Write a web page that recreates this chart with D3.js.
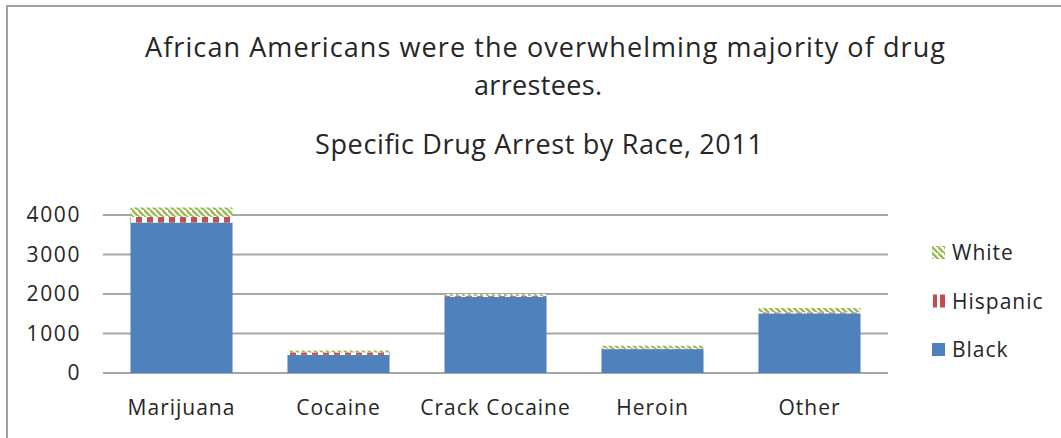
<!DOCTYPE html>
<html><head><meta charset="utf-8">
<script src="https://cdn.jsdelivr.net/npm/d3@7"></script>
<style>body{margin:0;background:#fff}svg{display:block}</style>
</head><body>
<svg id="c" width="1061" height="438"></svg>
<script>
const categories = ["Marijuana","Cocaine","Crack Cocaine","Heroin","Other"];
const black    = [3810, 460, 1930, 605, 1510];
const hispanic = [140, 60, 25, 15, 25];
const white    = [240, 50, 45, 70, 110];
const yTicks = [0,1000,2000,3000,4000];
const seriesNames = ["White","Hispanic","Black"];

const svg = d3.select("#c");
const font = "'Open Sans', sans-serif";
const W = 1061, H = 438;
const m = {left:103, right:888, top:215, bottom:373};

// frame
svg.append("path").attr("d",`M7,${H} L7,6 L${W},6`).attr("fill","none").attr("stroke","#a0a0a0").attr("stroke-width",2);

const defs = svg.append("defs");
const pw = defs.append("pattern").attr("id","pWhite").attr("patternUnits","userSpaceOnUse").attr("width",6).attr("height",6);
pw.append("rect").attr("width",6).attr("height",6).attr("fill","#fff");
pw.append("path").attr("d","M-1,-1 L7,7 M-4,2 L2,8 M4,-4 L10,2").attr("stroke","#9bbb59").attr("stroke-width",2.6);
const ph = defs.append("pattern").attr("id","pHisp").attr("patternUnits","userSpaceOnUse").attr("width",11).attr("height",11).attr("x",131);
ph.append("rect").attr("width",11).attr("height",11).attr("fill","#fff");
ph.append("rect").attr("x",5).attr("width",6).attr("height",11).attr("fill","#c0504d");

const x = d3.scaleBand().domain(categories).range([m.left,m.right]).paddingInner(0.35).paddingOuter(0.175);
const y = d3.scaleLinear().domain([0,4000]).range([m.bottom,m.top]);

// gridlines
svg.append("g").selectAll("line").data(yTicks).join("line")
  .attr("x1",m.left).attr("x2",m.right).attr("y1",d=>y(d)).attr("y2",d=>y(d))
  .attr("stroke","#a6a6a6").attr("stroke-width",2);

// stacked bars
const rows = categories.map((c,i)=>({cat:c, Black:black[i], Hispanic:hispanic[i], White:white[i]}));
const stack = d3.stack().keys(["Black","Hispanic","White"])(rows);
const fills = {Black:"#4f81bd", Hispanic:"url(#pHisp)", White:"url(#pWhite)"};
svg.append("g").selectAll("g").data(stack).join("g").attr("fill",d=>fills[d.key])
  .selectAll("rect").data(d=>d).join("rect")
  .attr("x",d=>x(d.data.cat)).attr("width",x.bandwidth())
  .attr("y",d=>y(d[1])).attr("height",d=>y(d[0])-y(d[1]));

// y axis
const ya = svg.append("g").attr("transform",`translate(${m.left},0)`)
  .call(d3.axisLeft(y).tickValues(yTicks).tickSize(0).tickPadding(22).tickFormat(d3.format("d")));
ya.select(".domain").remove();
ya.selectAll("text").attr("font-family",font).attr("font-size",21).attr("letter-spacing","1.6px").attr("fill","#262626");

// x axis
const xa = svg.append("g").attr("transform",`translate(0,${m.bottom})`)
  .call(d3.axisBottom(x).tickSize(0).tickPadding(27));
xa.select(".domain").remove();
xa.selectAll("text").attr("font-family",font).attr("font-size",21).attr("letter-spacing","1px").attr("fill","#262626");

// titles
const tAttrs = sel => sel.attr("text-anchor","middle").attr("font-family",font).attr("font-size",27).attr("fill","#262626").attr("lengthAdjust","spacing");
svg.append("text").attr("x",545).attr("y",57).call(tAttrs).attr("textLength",800)
  .text("African Americans were the overwhelming majority of drug");
svg.append("text").attr("x",538).attr("y",95).call(tAttrs).attr("textLength",128)
  .text("arrestees.");
svg.append("text").attr("x",539).attr("y",154).call(tAttrs).attr("textLength",448)
  .text("Specific Drug Arrest by Race, 2011");

// legend
const legFill = {White:"url(#pWhite)", Hispanic:"url(#pHisp)", Black:"#4f81bd"};
const lg = svg.append("g").selectAll("g").data(seriesNames).join("g")
  .attr("transform",(d,i)=>`translate(932,${253+i*48.5})`);
lg.append("rect").attr("x",0).attr("y",-7).attr("width",13).attr("height",13).attr("fill",d=>d==="Hispanic"?"none":legFill[d]);
lg.filter(d=>d==="Hispanic").append("rect").attr("x",1).attr("y",-7).attr("width",4).attr("height",13).attr("fill","#c0504d");
lg.filter(d=>d==="Hispanic").append("rect").attr("x",8).attr("y",-7).attr("width",5).attr("height",13).attr("fill","#c0504d");
lg.append("text").attr("x",20).attr("y",0).attr("dy","0.35em").attr("font-family",font).attr("font-size",21).attr("letter-spacing","1px").attr("fill","#262626").text(d=>d);
</script>
</body></html>
